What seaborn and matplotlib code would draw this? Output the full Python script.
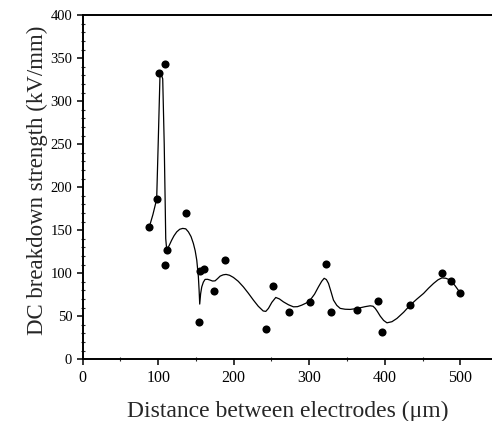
import matplotlib
matplotlib.use("Agg")
import matplotlib.pyplot as plt
import numpy as np
import pandas as pd
import seaborn as sns
from matplotlib.ticker import MultipleLocator

# measured points
dist_um = [87.9, 98.1, 101.1, 109.1, 109.5, 112.1, 136.9, 154.5, 155.4, 160.7,
           174.4, 189.0, 242.5, 251.8, 273.8, 301.2, 322.0, 328.6, 362.6, 391.0,
           396.4, 434.0, 476.0, 488.2, 500.0]
strength = [153.8, 185.7, 332.6, 343.0, 109.3, 126.7, 169.4, 42.7, 102.7, 104.3,
            79.0, 115.5, 34.9, 84.9, 54.7, 66.3, 110.5, 55.0, 57.4, 67.4,
            31.5, 63.2, 100.4, 90.8, 77.0]

# smoothed fit curve
curve_x = [88, 93, 98, 100, 102.4, 104, 106, 108, 109.3, 110, 111.3,
           114.5, 117.9, 121, 124.6, 128.5, 132.5, 136.5, 140, 143.5, 146.6,
           149, 151.1, 153.2, 154.2, 155, 156.2, 157.7, 159.8, 162.1, 165.5,
           168.7, 172, 175.3, 178.5, 182, 186, 189.9, 194.5, 199.6, 206, 212.8,
           219.5, 226.1, 232.5, 239, 242.5, 246, 250.5, 255.7, 260.5, 265.8,
           272.5, 279.1, 284.5, 290.2, 296, 301.2, 307, 312.2, 316.5, 319.8,
           322.7, 325.5, 328.8, 332.1, 336.5, 341, 347.5, 354.2, 361, 367.5,
           374, 380.7, 384.5, 387.4, 390.5, 394, 398.5, 402.9, 409.5, 416.1,
           425, 433.7, 442.5, 451.4, 458, 464.6, 470.5, 475.7, 481, 486.7,
           493, 500]
curve_y = [153, 168, 186, 250, 330, 331, 326, 250, 180, 140, 127,
           132, 138.4, 143.5, 148, 151, 152, 151.5, 148, 142.5, 134.5,
           126, 115, 96, 80, 64, 76, 84, 89.5, 92.7, 92.8,
           91.9, 90.8, 91, 93.5, 96.5, 98, 98.5, 97.5, 95, 90.5, 84,
           76.5, 68.6, 61.5, 56, 55.5, 59, 66, 71.7, 70, 66.6,
           63.2, 60.8, 61, 62.8, 65.2, 68.6, 75.5, 84, 90.5, 94,
           92.5, 88, 78.5, 68.6, 62.5, 59, 58, 57.8, 58.6, 59.7,
           61, 62, 61.5, 59, 55, 50, 45, 42.2, 43.5, 47.3,
           54.5, 62.8, 69.8, 76.4, 82.5, 88, 92.2, 94.5, 94, 91.9,
           85.5, 77]

pts = pd.DataFrame({"x": dist_um, "y": strength})
fit = pd.DataFrame({"x": curve_x, "y": curve_y})

sns.set_style("ticks")
plt.rcParams["font.family"] = ["Liberation Serif", "DejaVu Serif"]

fig = plt.figure(figsize=(4.92, 4.21), dpi=100)
ax = fig.add_axes([0.168, 0.147, 0.832, 0.817])

sns.lineplot(data=fit, x="x", y="y", sort=False, estimator=None,
             color="black", linewidth=0.9, ax=ax)
sns.scatterplot(data=pts, x="x", y="y", color="black", s=34,
                edgecolor="black", linewidth=0, zorder=3, ax=ax)

ax.set_xlim(0, 542)
ax.set_ylim(0, 400)
ax.xaxis.set_major_locator(MultipleLocator(100))
ax.xaxis.set_minor_locator(MultipleLocator(50))
ax.yaxis.set_major_locator(MultipleLocator(50))
ax.yaxis.set_minor_locator(MultipleLocator(10))
ax.tick_params(which="major", direction="out", length=4, width=1.1,
               colors="black")
ax.tick_params(axis="x", labelsize=11.5)
ax.tick_params(axis="y", labelsize=10.5)
ax.tick_params(which="minor", direction="inout", length=3, width=0.8)

for side in ("left", "bottom", "top"):
    ax.spines[side].set_linewidth(1.4)
    ax.spines[side].set_color("black")
ax.spines["right"].set_visible(False)

ax.set_xlabel("Distance between electrodes (\u03bcm)", fontsize=17, labelpad=11)
ax.set_ylabel("DC breakdown strength (kV/mm)", fontsize=16.5)
ax.yaxis.set_label_coords(-0.085, 0.52)

fig.savefig("out.png", dpi=100)
